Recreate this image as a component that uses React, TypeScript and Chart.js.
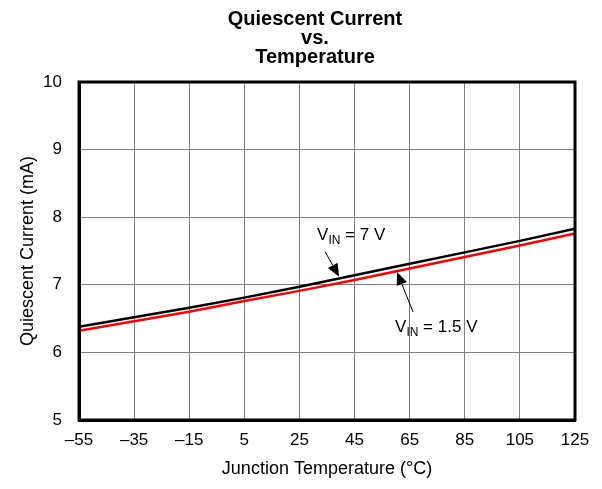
import React, { useEffect, useRef } from "react";
import { Chart, registerables } from "chart.js";

Chart.register(...registerables);

const temperatures = [-55, -35, -15, 5, 25, 45, 65, 85, 105, 125];
const vin7 = [6.38, 6.52, 6.66, 6.81, 6.97, 7.14, 7.31, 7.48, 7.65, 7.83];
const vin15 = [6.32, 6.46, 6.6, 6.76, 6.91, 7.07, 7.24, 7.41, 7.58, 7.76];
const titleLines = ["Quiescent Current", "vs.", "Temperature"];
const xTitle = "Junction Temperature (°C)";
const yTitle = "Quiescent Current (mA)";

// annotations in data units: label position (baseline start), arrow tail, arrow head
const annotations = [
  { main: "V", sub: "IN", rest: " = 7 V", tx: 31.4, ty: 7.66, ax0: 34.3, ay0: 7.49, ax1: 39.4, ay1: 7.12 },
  { main: "V", sub: "IN", rest: " = 1.5 V", tx: 59.7, ty: 6.3, ax0: 66.2, ay0: 6.6, ax1: 60.4, ay1: 7.19 },
];

const FONT = "'Liberation Sans', Arial, Helvetica, sans-serif";

const annotationPlugin = {
  id: "annot",
  afterDraw(chart: any) {
    const { ctx, chartArea, scales } = chart;
    const xs = scales.x, ys = scales.y;
    ctx.save();
    // title
    ctx.fillStyle = "#000";
    ctx.textAlign = "center";
    ctx.textBaseline = "alphabetic";
    ctx.font = `bold 20px ${FONT}`;
    const tcx = 315;
    titleLines.forEach((t, i) => ctx.fillText(t, tcx, 25 + i * 19));
    // frame
    ctx.strokeStyle = "#000";
    ctx.lineWidth = 3;
    ctx.strokeRect(chartArea.left, chartArea.top, chartArea.right - chartArea.left, chartArea.bottom - chartArea.top);
    for (const a of annotations) {
      const x = xs.getPixelForValue(a.tx);
      const y = ys.getPixelForValue(a.ty);
      ctx.fillStyle = "#000";
      ctx.textBaseline = "alphabetic";
      ctx.textAlign = "left";
      ctx.font = `17px ${FONT}`;
      ctx.fillText(a.main, x, y);
      let cx = x + ctx.measureText(a.main).width;
      ctx.font = `12px ${FONT}`;
      ctx.fillText(a.sub, cx, y + 4);
      cx += ctx.measureText(a.sub).width;
      ctx.font = `17px ${FONT}`;
      ctx.fillText(a.rest, cx, y);
      // arrow
      const x0 = xs.getPixelForValue(a.ax0), y0 = ys.getPixelForValue(a.ay0);
      const x1 = xs.getPixelForValue(a.ax1), y1 = ys.getPixelForValue(a.ay1);
      const ang = Math.atan2(y1 - y0, x1 - x0);
      const L = 13, W = 5.5;
      const bx = x1 - L * Math.cos(ang), by = y1 - L * Math.sin(ang);
      ctx.strokeStyle = "#000";
      ctx.lineWidth = 1;
      ctx.beginPath();
      ctx.moveTo(x0, y0);
      ctx.lineTo(bx, by);
      ctx.stroke();
      ctx.beginPath();
      ctx.moveTo(x1, y1);
      ctx.lineTo(bx + W * Math.sin(ang), by - W * Math.cos(ang));
      ctx.lineTo(bx - W * Math.sin(ang), by + W * Math.cos(ang));
      ctx.closePath();
      ctx.fill();
    }
    ctx.restore();
  },
};

export default function App() {
  const ref = useRef<HTMLCanvasElement | null>(null);
  useEffect(() => {
    if (!ref.current) return;
    const chart = new Chart(ref.current, {
      type: "line",
      data: {
        datasets: [
          {
            label: "VIN = 1.5 V",
            data: temperatures.map((t, i) => ({ x: t, y: vin15[i] })),
            borderColor: "#ff0000",
            borderWidth: 2.5,
            pointRadius: 0,
            tension: 0,
          },
          {
            label: "VIN = 7 V",
            data: temperatures.map((t, i) => ({ x: t, y: vin7[i] })),
            borderColor: "#000000",
            borderWidth: 2.5,
            pointRadius: 0,
            tension: 0,
          },
        ],
      },
      options: {
        animation: false,
        responsive: false,
        layout: { padding: { left: 0, right: 27, top: 82, bottom: 0 } },
        plugins: {
          legend: { display: false },
          tooltip: { enabled: false },
          title: { display: false },
        },
        scales: {
          x: {
            type: "linear",
            min: -55,
            max: 125,
            afterBuildTicks: (s: any) => {
              s.ticks = temperatures.map((v) => ({ value: v }));
            },
            ticks: {
              color: "#000",
              font: { family: FONT, size: 17 },
              padding: 10,
              maxRotation: 0,
              autoSkip: false,
              callback: (v: any) => String(v).replace("-", "\u2013"),
            },
            grid: { color: "#808080", lineWidth: 1, drawTicks: false },
            border: { color: "#000", width: 3 },
            title: {
              display: true,
              text: xTitle,
              color: "#000",
              font: { family: FONT, size: 18 },
              padding: { top: 0, bottom: 9 },
            },
            afterFit: (s: any) => {
              s.height = 69;
            },
          },
          y: {
            type: "linear",
            min: 5,
            max: 10,
            ticks: {
              stepSize: 1,
              color: "#000",
              font: { family: FONT, size: 17 },
              padding: 17,
            },
            grid: { color: "#808080", lineWidth: 1, drawTicks: false },
            border: { color: "#000", width: 3 },
            title: {
              display: true,
              text: yTitle,
              color: "#000",
              font: { family: FONT, size: 18 },
              padding: { top: 17, bottom: 0 },
            },
            afterFit: (s: any) => {
              s.width = 79;
            },
          },
        },
      },
      plugins: [annotationPlugin],
    } as any);
    return () => chart.destroy();
  }, []);
  return (
    <div style={{ position: "fixed", left: 0, top: 0, width: 602, height: 489, background: "#fff" }}>
      <canvas ref={ref} width={602} height={489} style={{ display: "block" }} />
    </div>
  );
}
